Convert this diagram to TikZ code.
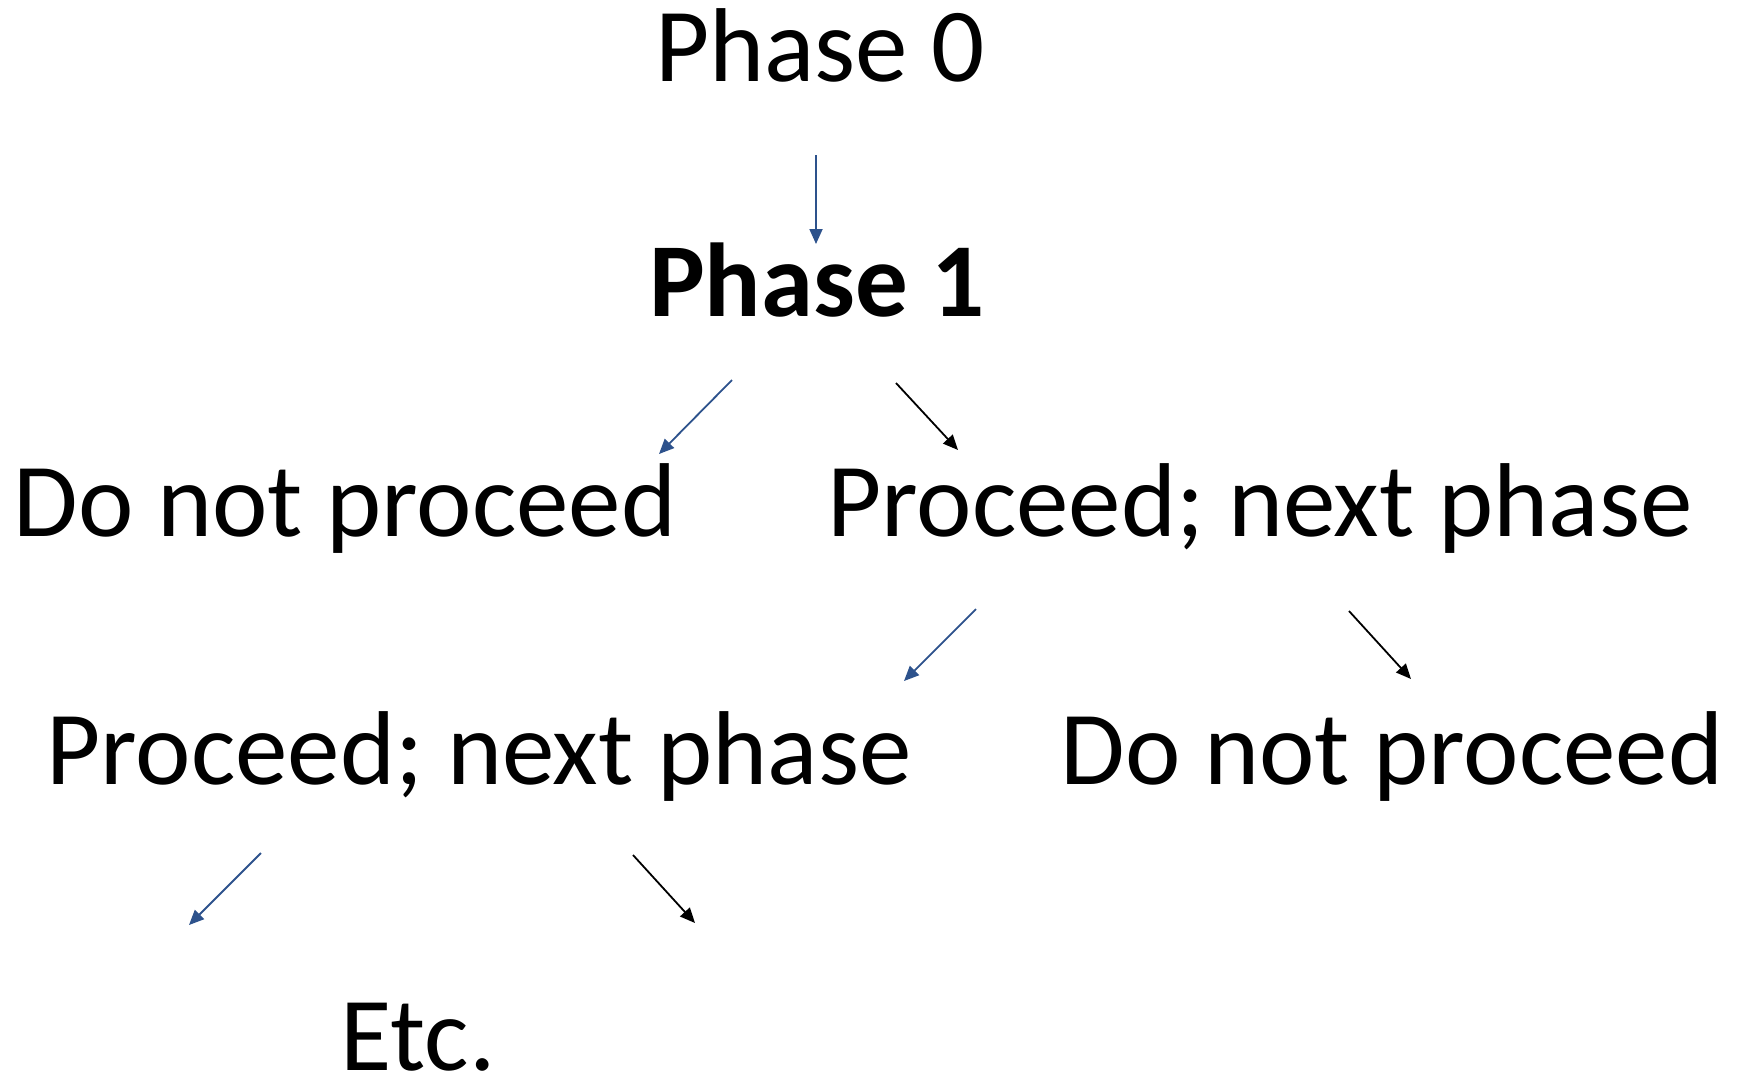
\documentclass[tikz,border=0pt]{standalone}
\usepackage{fontspec}
\setmainfont{Carlito}
\usepackage{tikz}
\usetikzlibrary{arrows.meta,positioning}
\definecolor{arrowblue}{RGB}{45,82,140}

\begin{document}
\begin{tikzpicture}[
  x=0.5bp, y=-0.5bp,
  phase/.style={anchor=base, inner sep=0pt, font=\fontsize{52.5bp}{63bp}\selectfont},
  yes/.style={-{Triangle[length=7.5bp,width=6.5bp]}, line width=0.9bp, draw=black},
  no/.style={-{Triangle[length=7.5bp,width=6.5bp]}, line width=0.9bp, draw=arrowblue}]

  \useasboundingbox (0,0) rectangle (1739,1084);

  % ---------- phases ----------
  \node[phase] (p0)   at (820,81)   {Phase 0};
  \node[phase,font=\fontsize{52.5bp}{63bp}\selectfont\bfseries] (p1) at (817,316) {Phase 1};
  \node[phase] (stopa) at (345,536)  {Do not proceed};
  \node[phase] (goa)   at (1260,536) {Proceed; next phase};
  \node[phase] (gob)   at (479,784)  {Proceed; next phase};
  \node[phase] (stopb) at (1392,784) {Do not proceed};
  \node[phase] (etc)   at (418,1070) {Etc.};

  % ---------- arrow ends ----------
  \coordinate (p0s)  at (816,155);  \coordinate (p1n)  at (816,244);
  \coordinate (p1l)  at (732,380);  \coordinate (sal)  at (659,454);
  \coordinate (p1r)  at (896,383);  \coordinate (gar)  at (958,450);
  \coordinate (gal)  at (976,609);  \coordinate (gbe)  at (904,681);
  \coordinate (gar2) at (1349,611); \coordinate (sbe)  at (1411,679);
  \coordinate (gbl)  at (261,853);  \coordinate (etl)  at (189,925);
  \coordinate (gbr)  at (633,855);  \coordinate (etr)  at (695,923);

  % ---------- arrows ----------
  \draw[no]  (p0s) -- (p1n);
  \draw[no]  (p1l) -- (sal);
  \draw[yes] (p1r) -- (gar);
  \draw[no]  (gal) -- (gbe);
  \draw[yes] (gar2) -- (sbe);
  \draw[no]  (gbl) -- (etl);
  \draw[yes] (gbr) -- (etr);

\end{tikzpicture}
\end{document}
